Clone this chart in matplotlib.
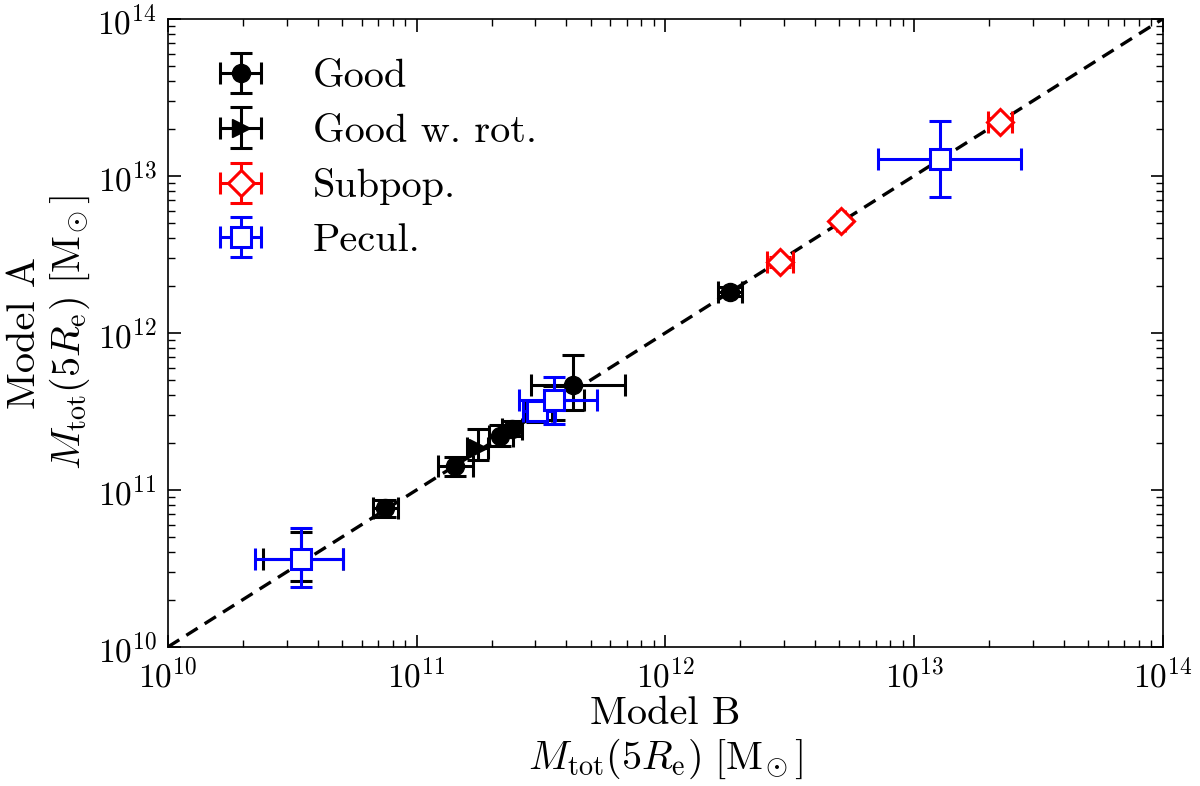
import numpy as np
import matplotlib
matplotlib.use("Agg")
import matplotlib.pyplot as plt

plt.rcParams["font.family"] = "serif"
plt.rcParams["font.serif"] = ["cmr10", "DejaVu Serif"]
plt.rcParams["mathtext.fontset"] = "cm"
plt.rcParams["axes.formatter.use_mathtext"] = True
plt.rcParams["axes.unicode_minus"] = False

# values with lower / upper bounds (Msun)
good_x = [7.45e10, 1.42e11, 2.16e11, 2.42e11, 4.25e11, 1.82e12]
good_xlo = [6.67e10, 1.22e11, 1.95e11, 2.20e11, 2.88e11, 1.63e12]
good_xhi = [8.40e10, 1.68e11, 2.45e11, 2.65e11, 6.90e11, 2.03e12]
good_y = [7.70e10, 1.42e11, 2.21e11, 2.45e11, 4.67e11, 1.82e12]
good_ylo = [6.73e10, 1.23e11, 1.90e11, 2.20e11, 3.24e11, 1.71e12]
good_yhi = [8.60e10, 1.62e11, 2.60e11, 2.75e11, 7.24e11, 1.95e12]

rot_x = [1.76e11]
rot_xlo = [1.59e11]
rot_xhi = [1.93e11]
rot_y = [1.85e11]
rot_ylo = [1.55e11]
rot_yhi = [2.45e11]

sub_x = [2.88e12, 5.08e12, 2.21e13]
sub_xlo = [2.56e12, 4.90e12, 1.98e13]
sub_xhi = [3.26e12, 5.25e12, 2.47e13]
sub_y = [2.83e12, 5.16e12, 2.21e13]
sub_ylo = [2.62e12, 4.95e12, 2.10e13]
sub_yhi = [3.05e12, 5.40e12, 2.33e13]

pec_x = [3.43e10, 3.04e11, 3.56e11, 1.27e13]
pec_xlo = [2.24e10, 2.67e11, 2.58e11, 7.15e12]
pec_xhi = [5.06e10, 3.60e11, 5.30e11, 2.69e13]
pec_y = [3.64e10, 3.18e11, 3.74e11, 1.28e13]
pec_ylo = [2.41e10, 2.75e11, 2.63e11, 7.35e12]
pec_yhi = [5.73e10, 3.60e11, 5.25e11, 2.24e13]

# black estimates sitting underneath the peculiar ones
und_x = [3.43e10, 3.04e11, 3.56e11]
und_xlo = [2.41e10, 2.75e11, 3.30e11]
und_xhi = [5.06e10, 3.50e11, 4.70e11]
und_y = [3.64e10, 3.18e11, 3.74e11]
und_ylo = [2.63e10, 2.72e11, 2.80e11]
und_yhi = [5.40e10, 3.70e11, 4.60e11]


def bounds(v, lo, hi):
    v = np.array(v)
    return [v - np.array(lo), np.array(hi) - v]


fig = plt.figure(figsize=(12, 7.86), dpi=100)
ax = fig.add_axes([0.14, 0.177, 0.829, 0.799])

lims = [1e10, 1e14]
ax.plot(lims, lims, "k--", lw=2.4, dashes=(4, 2.5), zorder=1)

eb = dict(ls="none", elinewidth=2.2, capsize=8, capthick=2.2, zorder=3)

ax.errorbar(und_x, und_y, xerr=bounds(und_x, und_xlo, und_xhi),
            yerr=bounds(und_y, und_ylo, und_yhi), fmt="o", color="k", ms=12, **eb)
ax.errorbar(good_x, good_y, xerr=bounds(good_x, good_xlo, good_xhi),
            yerr=bounds(good_y, good_ylo, good_yhi), fmt="o", color="k", ms=13,
            label="Good", **eb)
ax.errorbar(rot_x, rot_y, xerr=bounds(rot_x, rot_xlo, rot_xhi),
            yerr=bounds(rot_y, rot_ylo, rot_yhi), fmt=">", color="k", ms=13,
            label="Good w. rot.", **eb)
ax.errorbar(sub_x, sub_y, xerr=bounds(sub_x, sub_xlo, sub_xhi),
            yerr=bounds(sub_y, sub_ylo, sub_yhi), fmt="D", color="red", mfc="white",
            mec="red", mew=2.2, ms=13, label="Subpop.", **eb)
ax.errorbar(pec_x, pec_y, xerr=bounds(pec_x, pec_xlo, pec_xhi),
            yerr=bounds(pec_y, pec_ylo, pec_yhi), fmt="s", color="blue", mfc="white",
            mec="blue", mew=2.2, ms=14, label="Pecul.", **eb)

ax.set_xscale("log")
ax.set_yscale("log")
ax.set_xlim(lims)
ax.set_ylim(lims)
ax.tick_params(which="both", direction="in", top=True, right=True, labelsize=24, pad=8)
ax.tick_params(which="major", length=9, width=1.2)
ax.tick_params(which="minor", length=5, width=1.0)
for s in ax.spines.values():
    s.set_linewidth(1.2)

lab = r"$M_{\rm tot}(5R_{\rm e})\ [\mathrm{M}_{\!\odot}]$"
ax.set_xlabel("Model B\n" + lab, fontsize=29, linespacing=1.15, labelpad=2)
ax.set_ylabel("Model A\n" + lab, fontsize=29, linespacing=1.15, labelpad=4)

ax.legend(loc="upper left", frameon=False, fontsize=29, handlelength=1.6,
          handletextpad=1.0, labelspacing=0.45, borderaxespad=0.6)

fig.savefig("out.png", dpi=100)
